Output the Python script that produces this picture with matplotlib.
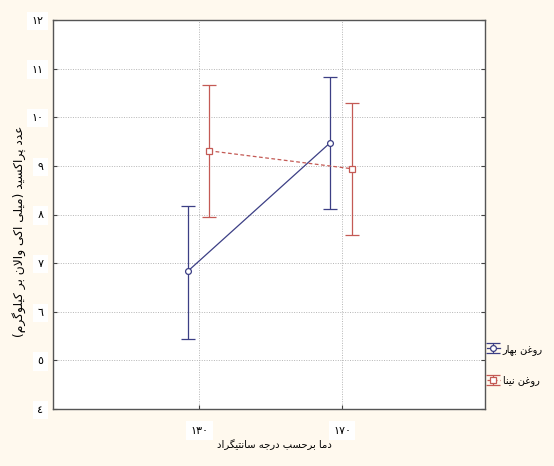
import numpy as np
import matplotlib.pyplot as plt

# داده‌ها (خوانده شده از تصویر)
temps = [130, 170]
temp_labels = ['١٣٠', '١٧٠']
bahar_mean = [6.83, 9.48]
bahar_low = [5.43, 8.11]
bahar_high = [8.17, 10.83]
nina_mean = [9.31, 8.94]
nina_low = [7.94, 7.57]
nina_high = [10.67, 10.30]
y_ticks = [4, 5, 6, 7, 8, 9, 10, 11, 12]
y_labels = ['٤', '٥', '٦', '٧', '٨', '٩', '١٠', '١١', '١٢']

x_label = 'دما برحسب درجه سانتیگراد'
y_label = 'عدد پراکسید (میلی اکی والان بر کیلوگرم)'
bahar_name = 'روغن بهار'
nina_name = 'روغن نینا'

# شکل‌دهی ساده حروف فارسی (matplotlib حروف را به هم وصل نمی‌کند)
FORMS = {
    'ا': ('\ufe8d', '\ufe8e', None, None),
    'ب': ('\ufe8f', '\ufe90', '\ufe91', '\ufe92'),
    'پ': ('\ufb56', '\ufb57', '\ufb58', '\ufb59'),
    'ت': ('\ufe95', '\ufe96', '\ufe97', '\ufe98'),
    'ج': ('\ufe9d', '\ufe9e', '\ufe9f', '\ufea0'),
    'ح': ('\ufea1', '\ufea2', '\ufea3', '\ufea4'),
    'د': ('\ufea9', '\ufeaa', None, None),
    'ر': ('\ufead', '\ufeae', None, None),
    'س': ('\ufeb1', '\ufeb2', '\ufeb3', '\ufeb4'),
    'ع': ('\ufec9', '\ufeca', '\ufecb', '\ufecc'),
    'غ': ('\ufecd', '\ufece', '\ufecf', '\ufed0'),
    'ک': ('\ufb8e', '\ufb8f', '\ufb90', '\ufb91'),
    'گ': ('\ufb92', '\ufb93', '\ufb94', '\ufb95'),
    'ل': ('\ufedd', '\ufede', '\ufedf', '\ufee0'),
    'م': ('\ufee1', '\ufee2', '\ufee3', '\ufee4'),
    'ن': ('\ufee5', '\ufee6', '\ufee7', '\ufee8'),
    'ه': ('\ufee9', '\ufeea', '\ufeeb', '\ufeec'),
    'و': ('\ufeed', '\ufeee', None, None),
    'ی': ('\ufbfc', '\ufbfd', '\ufbfe', '\ufbff'),
    'LA': ('\ufefb', '\ufefc', None, None),
}


def fa(text):
    chars = []
    i = 0
    while i < len(text):
        if text[i] == 'ل' and i + 1 < len(text) and text[i + 1] == 'ا':
            chars.append('LA')
            i += 2
        else:
            chars.append(text[i])
            i += 1
    out = []
    n = len(chars)
    for k, c in enumerate(chars):
        if c not in FORMS:
            out.append(c)
            continue
        prev_j = k > 0 and chars[k - 1] in FORMS and FORMS[chars[k - 1]][2] is not None
        next_j = k < n - 1 and chars[k + 1] in FORMS and FORMS[c][2] is not None
        iso, fin, ini, med = FORMS[c]
        if prev_j and next_j:
            out.append(med)
        elif prev_j:
            out.append(fin)
        elif next_j:
            out.append(ini)
        else:
            out.append(iso)
    s = ''.join(reversed(out))
    return s.translate(str.maketrans('()', ')('))


plt.rcParams['font.family'] = ['DejaVu Sans']

fig = plt.figure(figsize=(5.54, 4.66), dpi=100, facecolor='#fff9ee')
ax = fig.add_axes([53 / 554, 1 - 409 / 466, (485 - 53) / 554, (409 - 20) / 466])

blue = '#3c3f85'
red = '#c45a55'

bm = np.array(bahar_mean)
nm = np.array(nina_mean)
xb = np.array(temps) - 3.3
xn = np.array(temps) + 2.8

ax.errorbar(xb, bm, yerr=[bm - np.array(bahar_low), np.array(bahar_high) - bm],
            fmt='-o', color=blue, ecolor=blue, lw=0.9, elinewidth=0.9,
            capsize=5, capthick=0.9, ms=4.2, mfc='white', mec=blue, mew=0.9,
            label=fa(bahar_name), zorder=3)
ax.errorbar(xn, nm, yerr=[nm - np.array(nina_low), np.array(nina_high) - nm],
            fmt='s', linestyle=(0, (3, 2)), color=red, ecolor=red, lw=0.9,
            elinewidth=0.9, capsize=5, capthick=0.9, ms=4.5, mfc='white',
            mec=red, mew=0.9, label=fa(nina_name), zorder=3)

ax.set_xlim(89, 210)
ax.set_ylim(4, 12)
ax.set_xticks(temps)
ax.set_xticklabels(temp_labels)
ax.set_yticks(y_ticks)
ax.set_yticklabels(y_labels)
ax.tick_params(direction='in', length=3, width=0.8, color='#444444',
               labelsize=8, right=True)
ax.tick_params(axis='y', pad=7)
ax.tick_params(axis='x', pad=12)
for t in ax.get_xticklabels() + ax.get_yticklabels():
    t.set_bbox(dict(facecolor='white', edgecolor='none', pad=3))

ax.grid(True, color='#b5b5b5', linestyle=(0, (1, 1.5)), linewidth=0.7)
for sp in ax.spines.values():
    sp.set_color('#555555')
    sp.set_linewidth(1.0)

fig.text(274 / 554, 1 - 445 / 466, fa(x_label), fontsize=7.2,
         ha='center', va='center')
fig.text(19 / 554, 1 - 231 / 466, fa(y_label), fontsize=8.8, rotation=90,
         ha='center', va='center')

fig.legend(loc='center left', bbox_to_anchor=(487 / 554, 1 - 365 / 466),
           frameon=False, fontsize=7, handlelength=1.3, handletextpad=0.3,
           labelspacing=2.15, borderaxespad=0, borderpad=0)

fig.savefig('out.png', dpi=100, facecolor=fig.get_facecolor())
